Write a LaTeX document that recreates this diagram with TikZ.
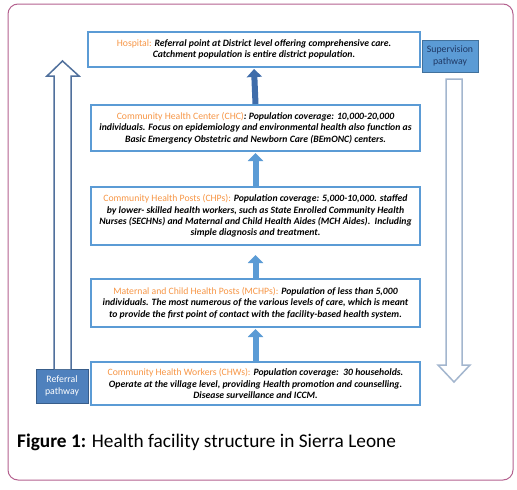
\documentclass[tikz,border=0pt]{standalone}
\usepackage{fontspec}
\setmainfont{Carlito}
\usetikzlibrary{arrows.meta}
\definecolor{framecol}{HTML}{B5628F}
\definecolor{boxblue}{HTML}{5B9BD5}
\definecolor{orng}{HTML}{F79646}
\definecolor{refblue}{HTML}{4F81BD}
\definecolor{refedge}{HTML}{385D8A}
\definecolor{supblue}{HTML}{5B9BD5}
\definecolor{supedge}{HTML}{41719C}
\definecolor{darkarrow}{HTML}{3F6DAA}
\definecolor{downedge}{HTML}{A3B6CE}
\definecolor{upedge}{HTML}{50709C}
\definecolor{navy}{HTML}{1F3864}
\newcommand\ttl[1]{{\normalfont\color{orng}#1}}
\tikzset{
  levelbox/.style={draw=boxblue, line width=2pt, fill=white, align=center, inner sep=0pt,
    minimum width=329pt, font=\fontsize{9.7}{11.4}\selectfont\bfseries\itshape},
  uparrow/.style={line width=6pt, draw=boxblue, -{Triangle[width=15pt,length=8pt]}, shorten >=1pt},
  pathbox/.style={line width=1pt, align=center, inner sep=0pt, font=\fontsize{9.8}{12.5}\selectfont}
}
\begin{document}
\begin{tikzpicture}[x=1pt,y=-1pt]
\fill[white] (0,0) rectangle (517,490);
\useasboundingbox (0,0) rectangle (517,490);
\draw[framecol, line width=1pt, rounded corners=10pt] (8,4) rectangle (513,480);

\node[levelbox, minimum width=332pt, minimum height=35pt] (hosp) at (254,49.5)
 {\ttl{Hospital:} Referral point at District level offering comprehensive care.\\
  Catchment population is entire district population.};
\node[levelbox, minimum height=46pt] (chc) at (255.5,128)
 {\ttl{Community Health Center (CHC)}: Population coverage: 10,000-20,000\\
  individuals. Focus on epidemiology and environmental health also function as\\
  Basic Emergency Obstetric and Newborn Care (BEmONC) centers.};
\node[levelbox, minimum height=58pt] (chp) at (255.5,216)
 {\ttl{Community Health Posts (CHPs):} Population coverage: 5,000-10,000. staffed\\
  by lower- skilled health workers, such as State Enrolled Community Health\\
  Nurses (SECHNs) and Maternal and Child Health Aides (MCH Aides).\ \ Including\\
  simple diagnosis and treatment.};
\node[levelbox, minimum height=48pt] (mchp) at (255.5,303)
 {\ttl{Maternal and Child Health Posts (MCHPs):} Population of less than 5,000\\
  individuals. The most numerous of the various levels of care, which is meant\\
  to provide the first point of contact with the facility-based health system.};
\node[levelbox, minimum height=43pt] (chw) at (255.5,383.5)
 {\ttl{Community Health Workers (CHWs):} Population coverage:\ \ 30 households.\\
  Operate at the village level, providing Health promotion and counselling.\\
  Disease surveillance and ICCM.};

\draw[uparrow, draw=darkarrow] (chc.north) -- (hosp.south);
\draw[uparrow] (chp.north) -- (chc.south);
\draw[uparrow, shorten >=9pt] (mchp.north) -- (chp.south);
\draw[uparrow] (chw.north) -- (mchp.south);

\node[pathbox, draw=refedge, fill=refblue, text=white, minimum width=52pt, minimum height=34pt] (ref) at (62,386) {Referral\\pathway};
\node[pathbox, draw=supedge, fill=supblue, text=navy, minimum width=56pt, minimum height=32pt] (sup) at (450,56) {Supervision\\pathway};

\coordinate (reftip) at (62.5,61);
\draw[upedge, line width=1.5pt, fill=white, line join=miter]
  (54,369) -- (54,76) -- (47,76) -- (reftip) -- (79,76) -- (71,76) -- (71,369);
\coordinate (suptip) at (454,382);
\draw[downedge, line width=1.5pt, fill=white, line join=miter]
  (446,79) -- (462,79) -- (462,365) -- (470,365) -- (suptip) -- (438,365) -- (446,365) -- cycle;

\node[anchor=base west, inner sep=0pt, font=\fontsize{19.3}{23}\selectfont] (cap) at (17,447)
 {\textbf{Figure 1:} Health facility structure in Sierra Leone};
\end{tikzpicture}
\end{document}
